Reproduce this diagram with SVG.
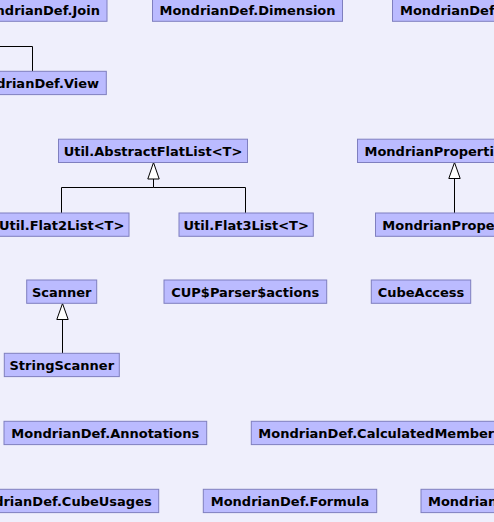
<svg xmlns="http://www.w3.org/2000/svg" width="494" height="522" viewBox="0 0 494 522">
<style>
.n rect{fill:#bbbbff;stroke:#7f7fbf;stroke-width:1}
.n text{font-family:"DejaVu Sans",sans-serif;font-weight:bold;font-size:13px;fill:#000}
.c{fill:none;stroke:#000;stroke-width:1}
.t{fill:#fff;stroke:#000;stroke-width:1}
</style>
<rect x="0" y="0" width="494" height="522" fill="#efeffc"/>
<g id="connectors">
<polyline class="c" points="-5,46.5 32.5,46.5 32.5,71.3"/>
<polyline class="c" points="153.5,179 153.5,187.5 61.5,187.5 61.5,213"/>
<polyline class="c" points="153.5,187.5 245.5,187.5 245.5,213"/>
<polygon class="t" points="153.5,162.5 147.8,179 159.2,179"/>
<line class="c" x1="454.5" y1="178.5" x2="454.5" y2="213"/>
<polygon class="t" points="454.5,162.5 448.8,178.5 460.2,178.5"/>
<line class="c" x1="62.5" y1="319.5" x2="62.5" y2="353.3"/>
<polygon class="t" points="62.5,303.5 56.8,319.5 68.2,319.5"/>
</g>
<g id="join" class="n"><rect x="-40" y="-2" width="147" height="23.3"/><text x="100" y="14.8" text-anchor="end">MondrianDef.Join</text></g>
<g id="dimension" class="n"><rect x="152.5" y="-2" width="190" height="23.3"/><text x="247.5" y="14.8" text-anchor="middle">MondrianDef.Dimension</text></g>
<g id="def1" class="n"><rect x="392.5" y="-2" width="140" height="23.3"/><text x="400" y="14.8">MondrianDef</text></g>
<g id="view" class="n"><rect x="-40" y="71.3" width="146.3" height="23.3"/><text x="99" y="88.1" text-anchor="end">MondrianDef.View</text></g>
<g id="abstractflatlist" class="n"><rect x="58.5" y="139.2" width="189" height="23.3"/><text x="153" y="156" text-anchor="middle">Util.AbstractFlatList&lt;T&gt;</text></g>
<g id="propbase" class="n"><rect x="357.5" y="139.2" width="194" height="23.3"/><text x="364.5" y="156">MondrianProperti</text></g>
<g id="flat2list" class="n"><rect x="-5.5" y="213" width="134.5" height="23.3"/><text x="61.7" y="229.8" text-anchor="middle">Util.Flat2List&lt;T&gt;</text></g>
<g id="flat3list" class="n"><rect x="179" y="213" width="134.3" height="23.3"/><text x="246.2" y="229.8" text-anchor="middle">Util.Flat3List&lt;T&gt;</text></g>
<g id="props" class="n"><rect x="375.5" y="213" width="158" height="23.3"/><text x="382.3" y="229.8">MondrianPrope</text></g>
<g id="scanner" class="n"><rect x="26.7" y="280" width="70" height="23.3"/><text x="61.7" y="296.8" text-anchor="middle">Scanner</text></g>
<g id="cupactions" class="n"><rect x="164" y="280" width="162.7" height="23.3"/><text x="245.3" y="296.8" text-anchor="middle">CUP$Parser$actions</text></g>
<g id="cubeaccess" class="n"><rect x="371.3" y="280" width="99.4" height="23.3"/><text x="421" y="296.8" text-anchor="middle">CubeAccess</text></g>
<g id="stringscanner" class="n"><rect x="4.3" y="353.3" width="115" height="23.3"/><text x="61.8" y="370.1" text-anchor="middle">StringScanner</text></g>
<g id="annotations" class="n"><rect x="4" y="421.3" width="202.7" height="23.3"/><text x="105.3" y="438.1" text-anchor="middle">MondrianDef.Annotations</text></g>
<g id="calculatedmember" class="n"><rect x="251.3" y="421.3" width="260" height="23.3"/><text x="258.3" y="438.1">MondrianDef.CalculatedMember</text></g>
<g id="cubeusages" class="n"><rect x="-40" y="489.3" width="198.7" height="23.3"/><text x="151.7" y="506.1" text-anchor="end">MondrianDef.CubeUsages</text></g>
<g id="formula" class="n"><rect x="203.3" y="489.3" width="173.4" height="23.3"/><text x="290" y="506.1" text-anchor="middle">MondrianDef.Formula</text></g>
<g id="def2" class="n"><rect x="421" y="489.3" width="120" height="23.3"/><text x="428" y="506.1">Mondrian</text></g>
</svg>
